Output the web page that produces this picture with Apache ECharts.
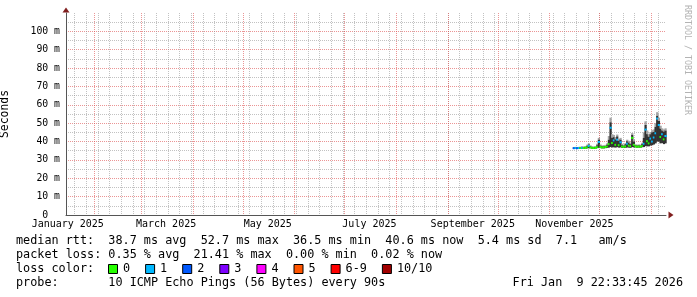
<!DOCTYPE html>
<html>
<head>
<meta charset="utf-8">
<script src="https://cdn.jsdelivr.net/npm/echarts@6/dist/echarts.min.js"></script>
<style>html,body{margin:0;padding:0;background:#fff}#c{width:697px;height:297px}</style>
</head>
<body>
<div id="c"></div>
<script>
// ---------- data ----------
const graphEnd = '2026-01-09T22:33:45Z';
const graphDays = 360;

const sampleDates = [
 '2025-11-15','2025-11-16','2025-11-17','2025-11-18','2025-11-19','2025-11-20','2025-11-21','2025-11-22',
 '2025-11-23','2025-11-24','2025-11-25','2025-11-26','2025-11-27','2025-11-28','2025-11-29','2025-11-30',
 '2025-12-01','2025-12-02','2025-12-03','2025-12-04','2025-12-05','2025-12-06','2025-12-07','2025-12-08',
 '2025-12-09','2025-12-10','2025-12-11','2025-12-12','2025-12-13','2025-12-14','2025-12-15','2025-12-16',
 '2025-12-17','2025-12-18','2025-12-19','2025-12-20','2025-12-21','2025-12-22','2025-12-23','2025-12-24',
 '2025-12-25','2025-12-26','2025-12-27','2025-12-28','2025-12-29','2025-12-30','2025-12-31','2026-01-01',
 '2026-01-02','2026-01-03','2026-01-04','2026-01-05','2026-01-06','2026-01-07','2026-01-08','2026-01-09'
];
// median rtt in ms
const medianMs = [
 36.4,36.5,36.4,36.5,36.5,36.6,36.5,36.6, 36.9,37.6,36.8,36.6,36.5,36.6,37.0,39.8,
 37.0,36.8,36.9,37.0,37.3,38.6,47.5,39.2, 40.6,38.2,41.0,38.0,39.6,37.3,37.0,37.4,
 38.8,37.8,37.5,42.0,38.2,37.4,37.2,37.3, 37.2,37.6,38.8,46.5,40.2,39.0,41.6,40.0,
 42.2,44.5,52.5,49.0,42.5,44.0,41.2,43.0
];
// lost pings out of 10
const lossPings = [
 2,1,2,1,0,1,0,0, 0,1,0,0,0,0,0,1,
 0,0,0,0,0,0,1,0, 1,0,1,0,1,0,0,0,
 1,0,0,0,0,0,0,0, 0,0,1,1,0,0,1,1,
 1,1,1,1,0,1,0,1
];
// smoke: lowest ping, top of dense smoke, highest ping (ms)
const smokeLowMs = [
 36.0,36.1,36.0,36.1,36.1,36.2,36.1,36.2, 36.3,36.4,36.3,36.2,36.1,36.2,36.4,36.6,
 36.4,36.3,36.3,36.4,36.5,36.7,37.0,36.8, 36.9,36.7,37.0,36.7,36.8,36.6,36.5,36.6,
 36.8,36.7,36.6,37.0,36.8,36.8,36.7,36.8, 36.7,36.9,37.0,37.5,37.4,37.4,37.8,38.0,
 38.4,39.0,40.0,40.0,39.0,39.2,38.6,39.0
];
const smokeDarkTopMs = [
 36.7,36.8,36.7,36.8,36.8,37.0,36.9,37.1, 37.6,38.4,37.4,37.0,36.9,37.1,38.0,41.0,
 37.8,37.4,37.5,37.6,38.3,41.0,50.5,42.0, 42.4,41.2,42.8,40.4,41.0,38.2,37.7,38.6,
 40.2,39.4,38.6,43.6,40.0,38.0,37.8,37.9, 37.8,38.6,42.0,49.0,44.0,42.6,44.0,45.0,
 45.2,48.0,54.0,51.2,47.0,46.0,45.4,46.0
];
const smokeTopMs = [
 37.0,37.1,37.0,37.1,37.2,37.4,37.3,37.6, 38.3,39.0,37.9,37.4,37.3,37.5,38.8,42.0,
 38.4,37.9,38.0,38.2,39.0,43.0,53.0,44.0, 43.6,42.4,43.8,41.4,42.0,38.8,38.2,39.2,
 41.0,40.4,39.5,44.6,41.2,38.5,38.3,38.4, 38.3,39.3,45.0,51.0,46.0,44.0,45.2,46.2,
 46.6,50.0,56.0,53.0,48.6,47.2,46.6,47.2
];

const monthStarts = ['2025-02-01','2025-03-01','2025-04-01','2025-05-01','2025-06-01','2025-07-01',
 '2025-08-01','2025-09-01','2025-10-01','2025-11-01','2025-12-01','2026-01-01'];
const xLabelDates = ['2025-01-16','2025-03-16','2025-05-16','2025-07-16','2025-09-16','2025-11-16'];
const xLabelTexts = ['January 2025','March 2025','May 2025','July 2025','September 2025','November 2025'];
const firstWeekStart = '2025-01-20';

const lossLabels = ['0','1','2','3','4','5','6-9','10/10'];
const lossColors = ['#26ff00','#00b8ff','#0059ff','#7e00ff','#ff00ff','#ff5500','#ff0000','#a10000'];

const legendLines = [
 'median rtt:  38.7 ms avg  52.7 ms max  36.5 ms min  40.6 ms now  5.4 ms sd  7.1   am/s',
 'packet loss: 0.35 % avg  21.41 % max  0.00 % min  0.02 % now',
 'loss color:',
 'probe:       10 ICMP Echo Pings (56 Bytes) every 90s'
];
const stampText = 'Fri Jan  9 22:33:45 2026';
const watermark = 'RRDTOOL / TOBI OETIKER';

// ---------- build ----------
const DAY = 86400000;
const endT = Date.parse(graphEnd);
const startT = endT - graphDays * DAY;
const MONO = '"DejaVu Sans Mono", monospace';
const toT = s => Date.parse(s + 'T00:00:00Z');
const times = sampleDates.map(s => Date.parse(s + 'T12:00:00Z'));
const lossBucket = l => l <= 5 ? l : (l < 10 ? 6 : 7);

const monthTimes = monthStarts.map(toT);
const labelTimes = xLabelDates.map(toT);
const labelMap = {};
labelTimes.forEach((t, i) => { labelMap[t] = xLabelTexts[i]; });
const weekTimes = [];
for (let t = toT(firstWeekStart); t < endT; t += 7 * DAY) weekTimes.push(t);

const MAJOR = 'rgba(222,79,79,0.6)';
const MINOR = 'rgba(143,143,143,0.55)';
const SMOKE_DARK = '#323232';
const SMOKE_LIGHT = '#a4a4a4';

const rows = times.map((t, i) => [t, smokeLowMs[i], smokeDarkTopMs[i], smokeTopMs[i], medianMs[i], lossPings[i]]);

function renderSmoke(params, api) {
  const t = api.value(0);
  const lo = api.value(1), dk = api.value(2), hi = api.value(3), med = api.value(4), loss = api.value(5);
  const x0 = api.coord([t - DAY / 2, 0])[0];
  const x1 = api.coord([t + DAY / 2, 0])[0];
  const w = x1 - x0 + 0.6;
  const yLo = api.coord([t, lo])[1], yDk = api.coord([t, dk])[1], yHi = api.coord([t, hi])[1];
  const yMed = api.coord([t, med])[1];
  return {
    type: 'group',
    children: [
      { type: 'rect', shape: { x: x0, y: yHi, width: w, height: yDk - yHi }, style: { fill: SMOKE_LIGHT } },
      { type: 'rect', shape: { x: x0, y: yDk, width: w, height: yLo - yDk }, style: { fill: SMOKE_DARK } },
      { type: 'rect', shape: { x: x0, y: yMed - 1, width: w, height: 2 }, style: { fill: lossColors[lossBucket(loss)] } }
    ]
  };
}

// vertical grid: [time, 0 = minor (week), 1 = major (month)]
const gridRows = weekTimes.map(t => [t, 0]).concat(monthTimes.map(t => [t, 1]));
function renderGrid(params, api) {
  const x = Math.round(api.coord([api.value(0), 0])[0]) + 0.5;
  const cs = params.coordSys;
  return {
    type: 'line',
    shape: { x1: x, y1: cs.y, x2: x, y2: cs.y + cs.height },
    style: { stroke: api.value(1) ? MAJOR : MINOR, lineWidth: 1, lineDash: [1, 1] }
  };
}

const series = [
  { name: 'grid', type: 'custom', xAxisIndex: 0, yAxisIndex: 0, silent: true, animation: false,
    renderItem: renderGrid, encode: { x: 0 }, data: gridRows, z: 1, clip: false },
  { name: 'smokeping', type: 'custom', xAxisIndex: 0, yAxisIndex: 0, silent: true, animation: false,
    renderItem: renderSmoke, encode: { x: 0, y: [1, 2, 3, 4] }, data: rows, z: 3 }
];

// legend graphics
const CW = 7.1, LX = 16, LINE_Y = [241, 255, 269, 283];
const FONT = '11.8px ' + MONO;
const graphic = [];
legendLines.forEach((txt, i) => {
  graphic.push({ type: 'text', x: LX, y: LINE_Y[i], silent: true,
    style: { text: txt, font: FONT, fill: '#000', textAlign: 'left', textVerticalAlign: 'middle' } });
});
graphic.push({ type: 'text', x: 683, y: LINE_Y[3], silent: true,
  style: { text: stampText, font: FONT, fill: '#000', textAlign: 'right', textVerticalAlign: 'middle' } });
let bx = 108;
lossLabels.forEach((lab, i) => {
  graphic.push({ type: 'rect', silent: true, shape: { x: bx + 0.5, y: LINE_Y[2] - 4.5, width: 9, height: 9 },
    style: { fill: lossColors[i], stroke: '#000', lineWidth: 1 } });
  graphic.push({ type: 'text', x: bx + 15, y: LINE_Y[2], silent: true,
    style: { text: lab, font: FONT, fill: '#000', textAlign: 'left', textVerticalAlign: 'middle' } });
  bx += 15 + lab.length * CW + 15;
});
graphic.push({ type: 'text', x: 687.5, y: 5, rotation: -Math.PI / 2, silent: true,
  style: { text: watermark, font: '8.3px ' + MONO, fill: '#b3b3b3', textAlign: 'left', textVerticalAlign: 'middle' } });

const option = {
  animation: false,
  backgroundColor: '#ffffff',
  grid: { left: 66, right: 31, top: 13, bottom: 82, outerBoundsMode: 'none', containLabel: false },
  xAxis: [
    { type: 'time', min: startT, max: endT, position: 'bottom', offset: 0,
      axisLine: { show: true, onZero: false, lineStyle: { color: '#555', width: 1 } },
      axisTick: { show: false }, axisLabel: { show: false }, splitLine: { show: false } },
    { type: 'value', min: startT, max: endT, position: 'bottom', offset: 0, scale: true,
      axisLine: { show: true, onZero: false, symbol: ['none', 'triangle'], symbolSize: [7, 5], symbolOffset: [0, 5],
        lineStyle: { color: '#801f1f', width: 0 } },
      axisTick: { show: false },
      axisLabel: { show: true, customValues: labelTimes, formatter: v => labelMap[v] || '',
        fontFamily: MONO, fontSize: 10, color: '#000', margin: 4, hideOverlap: false },
      splitLine: { show: false } }
  ],
  yAxis: [
    { type: 'value', min: 0, max: 110, interval: 10, position: 'left',
      name: 'Seconds', nameLocation: 'middle', nameGap: 55, nameRotate: 90,
      nameTextStyle: { fontFamily: MONO, fontSize: 11.4, color: '#000' },
      axisLine: { show: true, onZero: false, lineStyle: { color: '#555', width: 1 } },
      axisTick: { show: false },
      axisLabel: { formatter: v => v === 0 ? '0  ' : v + ' m', fontFamily: MONO, fontSize: 9.8, color: '#000',
        margin: 6, showMaxLabel: false },
      splitLine: { show: true, showMaxLine: false, lineStyle: { color: MAJOR, width: 1, type: [1, 1] } },
      minorTick: { show: false, splitNumber: 2 },
      minorSplitLine: { show: true, lineStyle: { color: MINOR, width: 1, type: [1, 1] } } },
    { type: 'value', min: 0, max: 110, interval: 10, position: 'left', offset: 0,
      axisLine: { show: true, onZero: false, symbol: ['none', 'triangle'], symbolSize: [7, 5], symbolOffset: [0, 3],
        lineStyle: { color: '#801f1f', width: 0 } },
      axisTick: { show: false }, axisLabel: { show: false }, splitLine: { show: false } }
  ],
  series,
  graphic
};
const chart = echarts.init(document.getElementById('c'));
chart.setOption(option);
</script>
</body>
</html>
